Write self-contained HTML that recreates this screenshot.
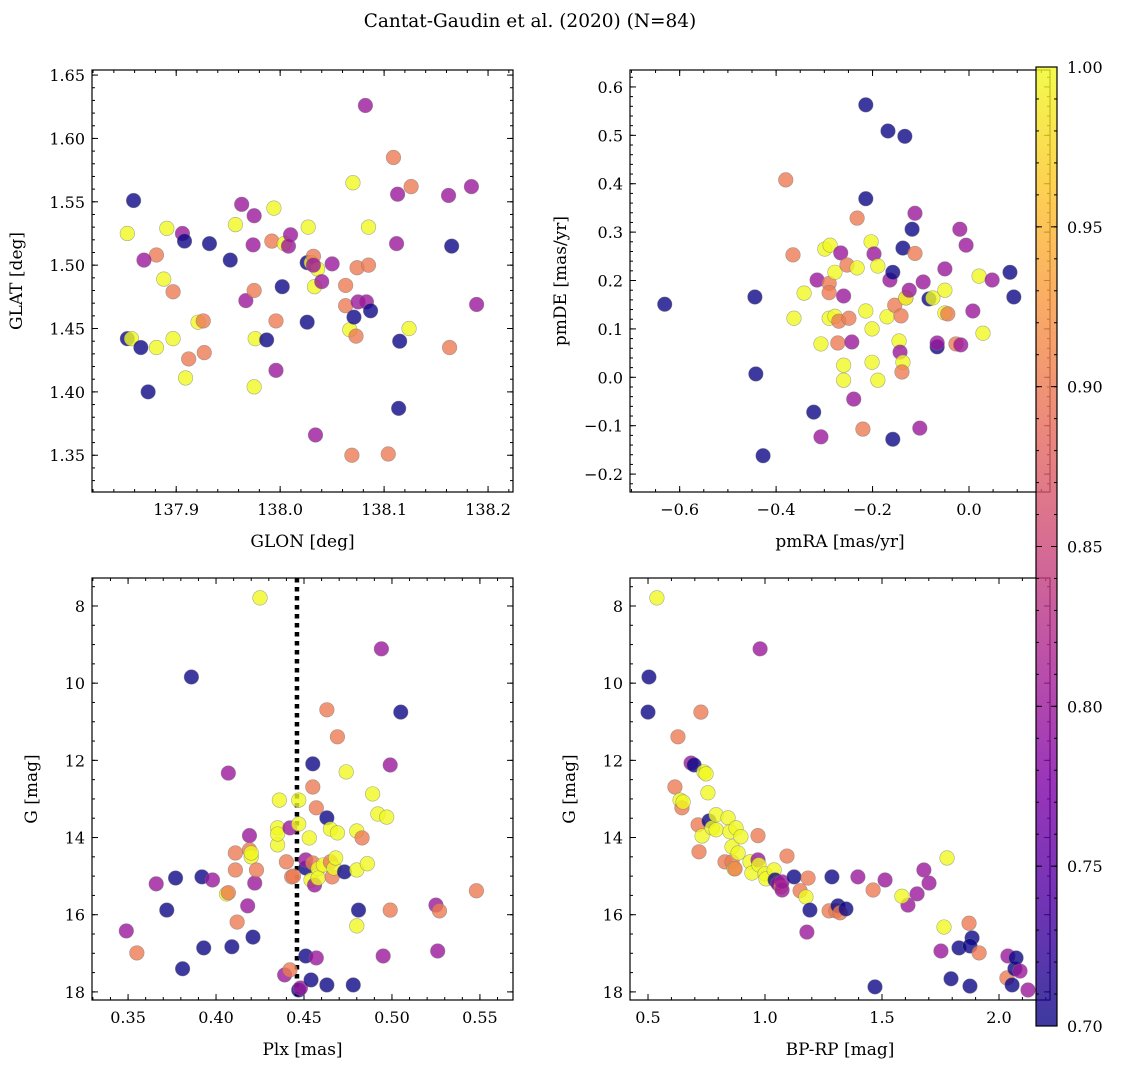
<!DOCTYPE html>
<html><head><meta charset="utf-8">
<style>
html,body{margin:0;padding:0;background:#fff;}
svg{display:block;font-family:"DejaVu Serif","Liberation Serif",serif;}
</style></head>
<body>
<svg id="fig" width="1148" height="1067" viewBox="0 0 1148 1067" xmlns="http://www.w3.org/2000/svg">
<defs>
<linearGradient id="plasma" x1="0" y1="1" x2="0" y2="0">
<stop offset="0" stop-color="#0d0887"/><stop offset="0.125" stop-color="#4c02a1"/>
<stop offset="0.25" stop-color="#7e03a8"/><stop offset="0.375" stop-color="#a92395"/>
<stop offset="0.5" stop-color="#cc4778"/><stop offset="0.625" stop-color="#e66c5c"/>
<stop offset="0.75" stop-color="#f89540"/><stop offset="0.875" stop-color="#fdc527"/>
<stop offset="1" stop-color="#f0f921"/></linearGradient>
</defs>
<text x="530" y="27" font-size="18.5" text-anchor="middle">Cantat-Gaudin et al. (2020) (N=84)</text>
</svg>
<script>
// Panel 1: GLON vs GLAT
const p1x=[137.859,137.853,137.881,137.869,137.906,137.891,137.908,137.932,137.888,137.897,137.853,137.857,137.866,137.881,137.897,137.873,137.912,137.909,137.921,137.926,137.927,137.952,137.957,137.963,137.975,137.974,137.967,137.975,137.976,137.975,137.987,137.992,137.994,137.996,137.996,138.002,138.004,138.010,138.008,138.027,138.026,138.030,138.032,138.033,138.036,138.032,138.040,138.026,138.034,138.050,138.063,138.063,138.067,138.070,138.069,138.071,138.073,138.075,138.074,138.082,138.085,138.083,138.087,138.085,138.104,138.109,138.112,138.113,138.115,138.114,138.124,138.126,138.163,138.162,138.165,138.184,138.189];
const p1y=[1.551,1.525,1.508,1.504,1.525,1.529,1.519,1.517,1.489,1.479,1.442,1.442,1.435,1.435,1.442,1.400,1.426,1.411,1.455,1.456,1.431,1.504,1.532,1.548,1.539,1.516,1.472,1.480,1.442,1.404,1.441,1.519,1.545,1.456,1.417,1.483,1.517,1.524,1.515,1.530,1.502,1.502,1.507,1.483,1.497,1.500,1.487,1.455,1.366,1.501,1.468,1.484,1.449,1.565,1.350,1.459,1.444,1.471,1.498,1.626,1.500,1.471,1.464,1.530,1.351,1.585,1.517,1.556,1.440,1.387,1.450,1.562,1.435,1.555,1.515,1.562,1.469];
const p1c=[0.70,1.0,0.9,0.8,0.8,1.0,0.7,0.7,1.0,0.9,0.7,1.0,0.7,1.0,1.0,0.7,0.9,1.0,1.0,0.9,0.9,0.7,1.0,0.8,0.8,0.8,0.8,0.9,1.0,1.0,0.7,0.9,1.0,0.9,0.8,0.7,1.0,0.8,0.8,1.0,0.7,1.0,0.9,1.0,1.0,0.8,0.8,0.7,0.8,0.8,0.9,0.9,1.0,1.0,0.9,0.7,0.9,0.8,0.9,0.8,0.9,0.8,0.7,1.0,0.9,0.9,0.8,0.8,0.7,0.7,1.0,0.9,0.9,0.8,0.7,0.8,0.8];
// Panel 2: pmRA vs pmDE
const p2x=[-0.631,-0.444,-0.442,-0.427,-0.380,-0.365,-0.363,-0.342,-0.322,-0.315,-0.307,-0.307,-0.299,-0.288,-0.290,-0.290,-0.290,-0.278,-0.278,-0.272,-0.270,-0.266,-0.260,-0.260,-0.260,-0.253,-0.249,-0.243,-0.239,-0.232,-0.232,-0.220,-0.214,-0.214,-0.214,-0.203,-0.201,-0.201,-0.197,-0.189,-0.189,-0.168,-0.170,-0.164,-0.158,-0.158,-0.154,-0.145,-0.143,-0.141,-0.137,-0.139,-0.137,-0.133,-0.131,-0.131,-0.124,-0.118,-0.112,-0.112,-0.102,-0.095,-0.083,-0.075,-0.066,-0.066,-0.050,-0.050,-0.050,-0.044,-0.027,-0.017,-0.019,-0.006,0.008,0.021,0.029,0.048,0.085,0.093];
const p2y=[0.151,0.166,0.007,-0.162,0.408,0.253,0.122,0.174,-0.072,0.201,0.069,-0.123,0.265,0.273,0.194,0.175,0.122,0.126,0.217,0.071,0.116,0.257,0.168,0.025,-0.006,0.232,0.122,0.073,-0.045,0.329,0.226,-0.107,0.563,0.369,0.137,0.280,0.031,0.100,0.255,0.230,-0.006,0.509,0.125,0.201,0.217,-0.128,0.149,0.075,0.052,0.127,0.031,0.011,0.267,0.498,0.164,0.164,0.180,0.306,0.339,0.256,-0.105,0.197,0.162,0.164,0.063,0.071,0.224,0.180,0.133,0.131,0.069,0.067,0.306,0.273,0.137,0.209,0.091,0.201,0.217,0.166];
const p2c=[0.7,0.7,0.7,0.7,0.9,0.9,1.0,1.0,0.7,0.8,1.0,0.8,1.0,1.0,0.9,0.9,1.0,1.0,1.0,0.9,0.9,0.8,0.8,1.0,1.0,0.9,0.9,0.8,0.8,0.9,1.0,0.9,0.7,0.7,1.0,1.0,1.0,1.0,0.8,1.0,1.0,0.7,1.0,0.8,0.7,0.7,0.9,1.0,0.8,0.9,1.0,0.9,0.7,0.7,0.9,1.0,0.8,0.7,0.8,0.9,0.8,0.8,0.7,1.0,0.7,0.8,0.8,1.0,1.0,0.9,0.9,0.8,0.8,0.8,0.8,1.0,1.0,0.8,0.7,0.7];
// Panel 3: Plx vs G
const p3x=[0.349,0.355,0.366,0.372,0.377,0.381,0.386,0.392,0.393,0.398,0.406,0.407,0.407,0.409,0.411,0.411,0.412,0.418,0.419,0.419,0.420,0.420,0.421,0.422,0.423,0.425,0.435,0.435,0.435,0.436,0.440,0.439,0.442,0.443,0.444,0.442,0.447,0.447,0.447,0.448,0.451,0.451,0.451,0.453,0.454,0.454,0.455,0.455,0.455,0.456,0.457,0.457,0.458,0.458,0.461,0.463,0.463,0.463,0.465,0.465,0.466,0.467,0.468,0.469,0.469,0.473,0.474,0.478,0.480,0.480,0.480,0.481,0.483,0.486,0.489,0.492,0.494,0.495,0.497,0.499,0.499,0.505,0.525,0.527,0.526,0.548];
const p3y=[16.42,16.99,15.20,15.88,15.05,17.40,9.84,15.02,16.86,15.10,15.46,15.43,12.33,16.83,14.40,14.84,16.19,15.77,13.95,14.32,14.50,14.40,16.58,15.18,14.84,7.79,13.75,14.19,13.91,13.03,14.63,17.56,17.43,15.02,15.00,13.75,13.65,13.03,17.95,17.90,17.07,14.79,14.58,14.01,15.10,17.69,12.09,12.69,14.66,15.23,13.23,17.12,14.81,15.05,14.71,10.69,17.82,13.49,14.63,13.78,15.02,14.79,14.53,13.88,11.39,14.89,12.30,17.82,13.83,14.84,16.29,15.88,14.01,14.68,12.87,13.39,9.11,17.07,13.47,15.88,12.12,10.75,15.75,15.90,16.94,15.38];
const p3c=[0.8,0.9,0.8,0.7,0.7,0.7,0.7,0.7,0.7,0.8,1.0,0.9,0.8,0.7,0.9,0.9,0.9,0.8,0.8,0.9,1.0,1.0,0.7,0.8,0.9,1.0,1.0,1.0,1.0,1.0,0.9,0.8,0.9,0.9,0.9,0.8,1.0,1.0,0.7,0.8,0.7,0.7,0.8,1.0,1.0,0.7,0.7,0.9,0.9,0.8,0.9,0.8,1.0,1.0,1.0,0.9,0.7,0.7,0.9,1.0,0.9,1.0,1.0,1.0,0.9,0.7,1.0,0.7,1.0,1.0,1.0,0.7,0.9,1.0,1.0,1.0,0.8,0.8,1.0,0.9,0.8,0.7,0.8,0.9,0.8,0.9];
const plxMean=0.446;
// Panel 4: BP-RP vs G
const p4x=[0.504,0.500,0.538,0.628,0.615,0.637,0.645,0.650,0.684,0.697,0.714,0.718,0.726,0.731,0.739,0.748,0.756,0.761,0.774,0.791,0.791,0.829,0.842,0.859,0.850,0.859,0.868,0.872,0.876,0.885,0.897,0.936,0.944,0.970,0.970,0.974,0.979,1.000,1.004,1.039,1.043,1.056,1.056,1.068,1.073,1.073,1.094,1.124,1.150,1.175,1.184,1.192,1.179,1.286,1.274,1.303,1.312,1.321,1.346,1.397,1.462,1.470,1.513,1.611,1.585,1.650,1.679,1.701,1.752,1.765,1.778,1.795,1.829,1.872,1.876,1.885,1.876,1.915,2.034,2.038,2.068,2.073,2.056,2.090,2.124];
const p4y=[9.84,10.75,7.79,11.39,12.69,13.03,13.23,13.08,12.07,12.12,13.67,14.37,10.75,13.96,12.30,12.35,12.84,13.57,13.75,13.80,13.41,14.63,13.49,14.63,13.85,14.24,14.81,14.81,13.75,14.40,13.98,14.63,14.92,13.95,14.58,14.71,9.11,14.94,15.07,14.84,15.10,15.18,15.20,15.28,15.36,15.15,14.48,15.02,15.38,15.54,15.05,15.88,16.45,15.02,15.90,15.90,15.77,15.95,15.85,15.02,15.36,17.87,15.10,15.75,15.52,15.46,14.84,15.18,16.94,16.32,14.53,17.66,16.86,16.22,17.85,16.60,16.81,16.99,17.64,17.07,17.40,17.12,17.82,17.46,17.95];
const p4c=[0.7,0.7,1.0,0.9,0.9,1.0,0.9,1.0,0.8,0.7,0.9,0.9,0.9,1.0,1.0,1.0,1.0,0.7,1.0,1.0,1.0,0.9,1.0,0.9,1.0,1.0,1.0,0.9,1.0,1.0,1.0,1.0,1.0,0.9,0.8,1.0,0.8,1.0,1.0,1.0,0.7,0.7,0.8,0.9,0.8,0.8,0.9,0.7,0.9,1.0,0.9,0.7,0.8,0.7,0.9,0.9,0.7,0.9,0.7,0.8,0.9,0.7,0.8,0.8,1.0,0.8,0.8,0.8,0.8,1.0,1.0,0.7,0.7,0.9,0.7,0.7,0.7,0.9,0.9,0.8,0.7,0.7,0.7,0.8,0.8];
// Colorbar ticks
const cbTicks=[0.70,0.75,0.80,0.85,0.90,0.95,1.00];

const NS="http://www.w3.org/2000/svg";
const svg=document.getElementById('fig');
function mk(tag,attrs,parent){const e=document.createElementNS(NS,tag);for(const k in attrs)e.setAttribute(k,attrs[k]);(parent||svg).appendChild(e);return e;}
const stops=[[0,[13,8,135]],[0.125,[76,2,161]],[0.25,[126,3,168]],[0.375,[169,35,149]],[0.5,[204,71,120]],[0.625,[230,108,92]],[0.75,[248,149,64]],[0.875,[253,197,39]],[1,[240,249,33]]];
function plasma(t){t=Math.max(0,Math.min(1,t));for(let i=1;i<stops.length;i++){if(t<=stops[i][0]){const a=stops[i-1],b=stops[i];const f=(t-a[0])/(b[0]-a[0]);const c=a[1].map((v,j)=>Math.round(v+(b[1][j]-v)*f));return `rgb(${c[0]},${c[1]},${c[2]})`;}}return 'rgb(240,249,33)';}
const cmin=0.70,cmax=1.00;

function fmt(v,d){return v.toFixed(d).replace('-','\u2212');}
function panel(o){
  const g=mk('g',{});
  
  
  const sx=v=>o.L+(v-o.x0)/(o.x1-o.x0)*(o.R-o.L);
  const sy=v=>o.B-(v-o.y0)/(o.y1-o.y0)*(o.B-o.T);
  const tg=mk('g',{stroke:'#000','stroke-width':1},g);
  function ticks(lo,hi,step){const out=[];const s=Math.ceil(lo/step-1e-6);for(let k=s;k*step<=hi+1e-9;k++)out.push(k*step);return out;}
  const xmin=Math.min(o.x0,o.x1),xmax=Math.max(o.x0,o.x1),ymin=Math.min(o.y0,o.y1),ymax=Math.max(o.y0,o.y1);
  ticks(xmin,xmax,o.xminor).forEach(v=>{const x=sx(v);mk('line',{x1:x,x2:x,y1:o.B,y2:o.B-3},tg);mk('line',{x1:x,x2:x,y1:o.T,y2:o.T+3},tg);});
  ticks(ymin,ymax,o.yminor).forEach(v=>{const y=sy(v);mk('line',{x1:o.L,x2:o.L+3,y1:y,y2:y},tg);mk('line',{x1:o.R,x2:o.R-3,y1:y,y2:y},tg);});
  o.xticks.forEach(v=>{const x=sx(v);mk('line',{x1:x,x2:x,y1:o.B,y2:o.B-6},tg);mk('line',{x1:x,x2:x,y1:o.T,y2:o.T+6},tg);
    const t=mk('text',{x:x,y:o.B+23,'font-size':16,'text-anchor':'middle'},g);t.textContent=fmt(v,o.xd);
    });
  o.yticks.forEach(v=>{const y=sy(v);mk('line',{x1:o.L,x2:o.L+6,y1:y,y2:y},tg);mk('line',{x1:o.R,x2:o.R-6,y1:y,y2:y},tg);
    const t=mk('text',{x:o.L-7,y:y+6,'font-size':16,'text-anchor':'end'},g);t.textContent=fmt(v,o.yd);
    });
  if(o.vline!==undefined){const l=mk('line',{x1:sx(o.vline),x2:sx(o.vline),y1:o.T,y2:o.B,stroke:'#000','stroke-width':4.5,'stroke-dasharray':'4.5,4.5'},g);
    }
  const pg=mk('g',{},g);
  
  o.xs.forEach((v,i)=>{const c=mk('circle',{cx:sx(v),cy:sy(o.ys[i]),r:7.3,fill:plasma((o.cs[i]-cmin)/(cmax-cmin)),'fill-opacity':0.8,stroke:'#777','stroke-opacity':0.6,'stroke-width':0.6},pg);
    });
  const fr=mk('rect',{x:o.L,y:o.T,width:o.R-o.L,height:o.B-o.T,fill:'none',stroke:'#000','stroke-width':1.2},g);
  
  const xl=mk('text',{x:(o.L+o.R)/2,y:o.B+55,'font-size':17,'text-anchor':'middle'},g);xl.textContent=o.xlabel;
  
  const yx=o.L-o.ylabOff,yy=(o.T+o.B)/2;
  const yl=mk('text',{x:yx,y:yy,'font-size':17,'text-anchor':'middle',transform:`rotate(-90 ${yx} ${yy})`},g);yl.textContent=o.ylabel;
  
}
panel({name:'glon-glat-panel',L:92,R:513,T:70,B:492,x0:137.819,x1:138.224,y0:1.321,y1:1.654,xticks:[137.9,138.0,138.1,138.2],yticks:[1.35,1.40,1.45,1.50,1.55,1.60,1.65],xd:1,yd:2,xminor:0.02,yminor:0.01,xs:p1x,ys:p1y,cs:p1c,xlabel:'GLON [deg]',ylabel:'GLAT [deg]',ylabOff:70});
panel({name:'proper-motion-panel',L:630,R:1050,T:70,B:492,x0:-0.703,x1:0.168,y0:-0.237,y1:0.635,xticks:[-0.6,-0.4,-0.2,0.0],yticks:[-0.2,-0.1,0.0,0.1,0.2,0.3,0.4,0.5,0.6],xd:1,yd:1,xminor:0.05,yminor:0.02,xs:p2x,ys:p2y,cs:p2c,xlabel:'pmRA [mas/yr]',ylabel:'pmDE [mas/yr]',ylabOff:64});
panel({name:'parallax-magnitude-panel',L:92,R:513,T:578,B:1000,x0:0.3295,x1:0.5688,y0:18.21,y1:7.275,xticks:[0.35,0.40,0.45,0.50,0.55],yticks:[8,10,12,14,16,18],xd:2,yd:0,xminor:0.01,yminor:0.5,xs:p3x,ys:p3y,cs:p3c,xlabel:'Plx [mas]',ylabel:'G [mag]',ylabOff:55,vline:plxMean});
panel({name:'color-magnitude-panel',L:630,R:1050,T:578,B:1000,x0:0.423,x1:2.218,y0:18.21,y1:7.275,xticks:[0.5,1.0,1.5,2.0],yticks:[8,10,12,14,16,18],xd:1,yd:0,xminor:0.1,yminor:0.5,xs:p4x,ys:p4y,cs:p4c,xlabel:'BP-RP [mag]',ylabel:'G [mag]',ylabOff:55});

// colorbar
const cb=mk('g',{});

const cT=67,cB=1026,cL=1036,cR=1057;
mk('rect',{x:cL,y:cT,width:cR-cL,height:cB-cT,fill:'url(#plasma)','fill-opacity':0.8},cb);
mk('rect',{x:cL,y:cT,width:cR-cL,height:cB-cT,fill:'none',stroke:'#000','stroke-width':1.2},cb);
const cy=v=>cB-(v-cmin)/(cmax-cmin)*(cB-cT);
for(let k=70;k<=100;k++){const y=cy(k/100);mk('line',{x1:cR,x2:cR-3,y1:y,y2:y,stroke:'#000'},cb);mk('line',{x1:cL,x2:cL+3,y1:y,y2:y,stroke:'#000'},cb);}
cbTicks.forEach(v=>{const y=cy(v);mk('line',{x1:cR,x2:cR-6,y1:y,y2:y,stroke:'#000'},cb);mk('line',{x1:cL,x2:cL+6,y1:y,y2:y,stroke:'#000'},cb);
  const t=mk('text',{x:cR+10,y:y+6,'font-size':16},cb);t.textContent=v.toFixed(2);
  });
</script>
</body></html>
